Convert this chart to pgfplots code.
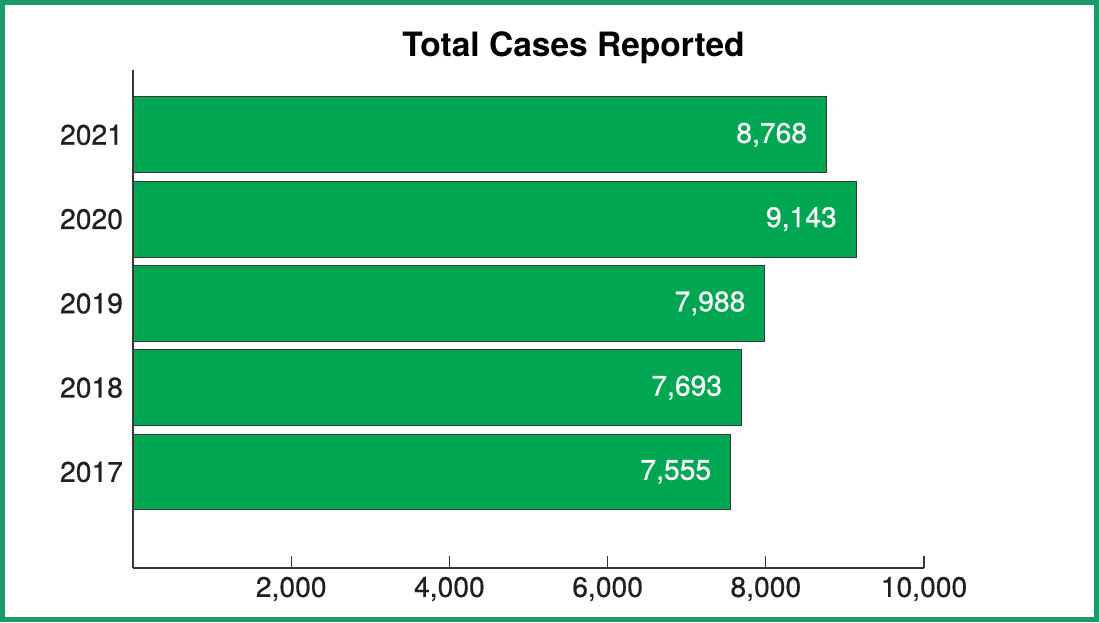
\documentclass[border=0pt]{standalone}
\usepackage{pgfplots}
\pgfplotsset{compat=1.18}
\usepackage{fontspec}
\setmainfont{TeX Gyre Heros}
\newfontfamily\medfont[FakeBold=0.6]{TeX Gyre Heros}
\definecolor{barg}{RGB}{0,166,81}
\definecolor{frameg}{RGB}{28,155,105}
\definecolor{axg}{RGB}{55,55,55}
\begin{document}
\begin{tikzpicture}[x=0.4pt,y=0.4pt]
\fill[white] (0,0) rectangle (1099,-622);
\draw[frameg,line width=1.8pt] (2.5,-2.5) rectangle (1096.5,-619.5);
\node[font=\bfseries\fontsize{13.4}{15}\selectfont] at (573.5,-48) {Total Cases Reported};
\begin{axis}[
  at={(133*0.4pt,-568*0.4pt)}, anchor=south west,
  scale only axis, width=316.4pt, height=199.2pt,
  xbar, bar width=0.9,
  xmin=0, xmax=10000, ymin=-1.14, ymax=4.77,
  axis x line*=bottom, axis y line*=left,
  axis line style={axg,line width=0.6pt,-},
  scaled x ticks=false,
  xtick={2000,4000,6000,8000,10000},
  xticklabels={2{,}000,4{,}000,6{,}000,8{,}000,10{,}000},
  tick align=inside, major tick length=4.8pt,
  x tick style={axg,line width=0.5pt},
  ytick={0,1,2,3,4}, yticklabels={2017,2018,2019,2020,2021},
  y tick style={draw=none},
  tick label style={font=\medfont\fontsize{11.3}{13}\selectfont, text=black!88},
  /pgf/number format/assume math mode=true,
  xticklabel style={yshift=0pt},
  yticklabel style={xshift=-0.5pt},
  nodes near coords={\pgfmathprintnumber[1000 sep={,}]{\pgfplotspointmeta}},
  point meta=x,
  nodes near coords style={anchor=east, text=white, font=\medfont\fontsize{11.3}{13}\selectfont, inner sep=0pt, xshift=-7.6pt},
]
\addplot[fill=barg, draw=axg, line width=0.4pt] coordinates {(7555,0) (7693,1) (7988,2) (9143,3) (8768,4)};
\end{axis}
\end{tikzpicture}
\end{document}
